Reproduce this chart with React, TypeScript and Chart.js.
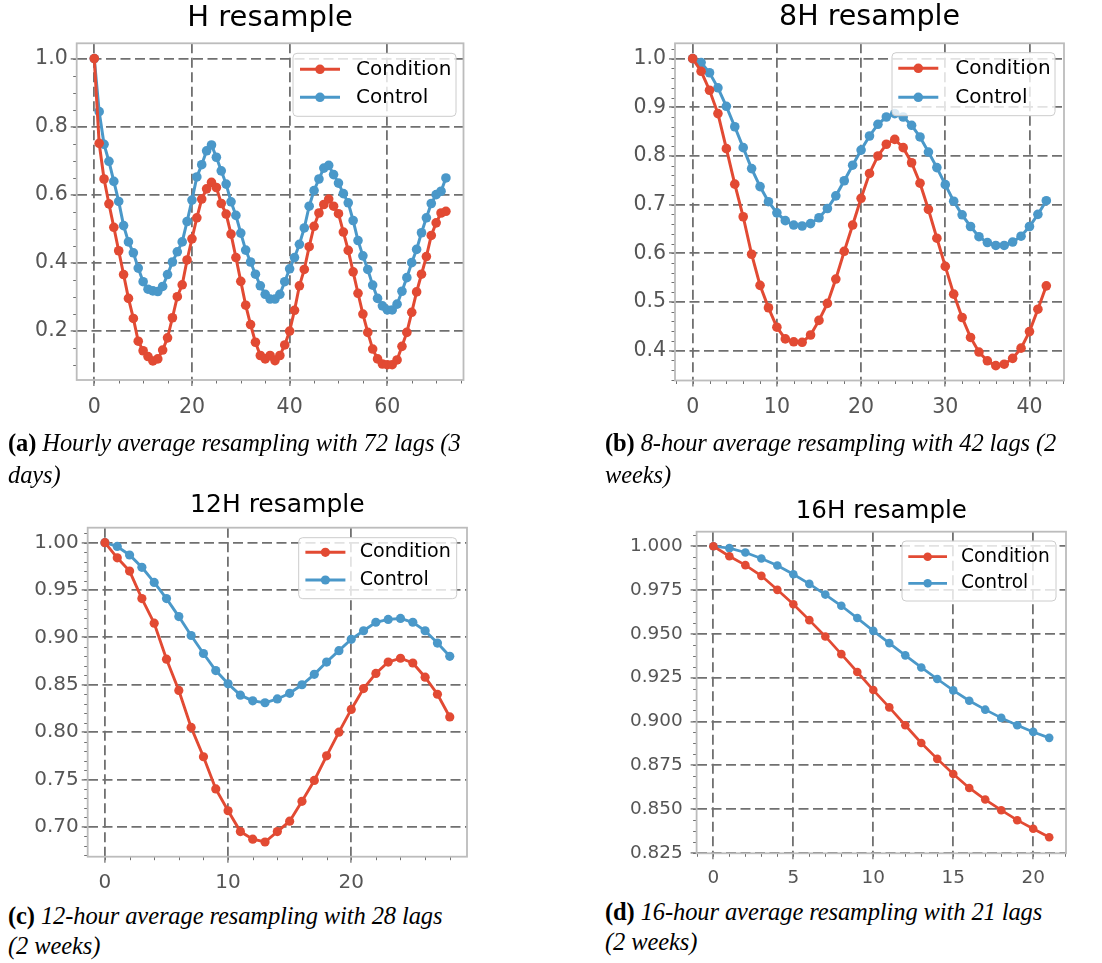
import React, { useEffect, useRef } from "react";
import { Chart, registerables } from "chart.js";

Chart.register(...registerables);

// Autocorrelation by lag, hourly resample (lags 0..72)
const hCondition = [
  1.0, 0.751, 0.646, 0.573, 0.504, 0.435, 0.365, 0.295, 0.236, 0.169,
  0.141, 0.124, 0.111, 0.117, 0.143, 0.179, 0.238, 0.3, 0.335, 0.408,
  0.47, 0.532, 0.587, 0.617, 0.636, 0.621, 0.574, 0.543, 0.484, 0.415,
  0.345, 0.275, 0.218, 0.166, 0.127, 0.117, 0.127, 0.112, 0.127, 0.158,
  0.199, 0.26, 0.332, 0.38, 0.447, 0.507, 0.546, 0.571, 0.587, 0.566,
  0.544, 0.49, 0.436, 0.373, 0.31, 0.249, 0.195, 0.146, 0.117, 0.102,
  0.1, 0.1, 0.114, 0.154, 0.195, 0.254, 0.314, 0.366, 0.418, 0.48,
  0.517, 0.546, 0.551,
];
const hControl = [
  1.0, 0.844, 0.748, 0.698, 0.639, 0.58, 0.509, 0.461, 0.429, 0.384,
  0.344, 0.322, 0.317, 0.315, 0.33, 0.365, 0.402, 0.432, 0.461, 0.521,
  0.584, 0.652, 0.688, 0.729, 0.746, 0.71, 0.67, 0.631, 0.579, 0.539,
  0.487, 0.437, 0.402, 0.366, 0.332, 0.307, 0.293, 0.293, 0.307, 0.344,
  0.382, 0.415, 0.454, 0.502, 0.566, 0.612, 0.646, 0.678, 0.686, 0.659,
  0.634, 0.603, 0.576, 0.524, 0.465, 0.42, 0.38, 0.334, 0.295, 0.273,
  0.261, 0.261, 0.278, 0.316, 0.356, 0.4, 0.439, 0.488, 0.532, 0.574,
  0.6, 0.61, 0.649,
];

// 8-hour resample (lags 0..42)
const h8Condition = [
  1.0, 0.974, 0.935, 0.887, 0.815, 0.742, 0.675, 0.598, 0.534, 0.488,
  0.448, 0.424, 0.418, 0.417, 0.432, 0.462, 0.497, 0.547, 0.604, 0.658,
  0.713, 0.764, 0.8, 0.824, 0.834, 0.817, 0.786, 0.744, 0.69, 0.631,
  0.573, 0.516, 0.468, 0.427, 0.397, 0.379, 0.369, 0.372, 0.384, 0.405,
  0.439, 0.485, 0.533,
];
const h8Control = [
  1.0, 0.992, 0.971, 0.94, 0.902, 0.86, 0.817, 0.774, 0.737, 0.706,
  0.683, 0.667, 0.658, 0.656, 0.661, 0.673, 0.692, 0.718, 0.749, 0.781,
  0.812, 0.841, 0.865, 0.88, 0.887, 0.88, 0.863, 0.839, 0.808, 0.776,
  0.741, 0.707, 0.679, 0.655, 0.634, 0.622, 0.616, 0.616, 0.623, 0.635,
  0.655, 0.68, 0.708,
];

// 12-hour resample (lags 0..28)
const h12Condition = [
  1.0, 0.984, 0.97, 0.941, 0.915, 0.877, 0.844, 0.805, 0.774, 0.74,
  0.717, 0.695, 0.687, 0.684, 0.695, 0.706, 0.727, 0.749, 0.775, 0.8,
  0.824, 0.846, 0.862, 0.874, 0.878, 0.873, 0.858, 0.84, 0.816,
];
const h12Control = [
  1.0, 0.996, 0.987, 0.974, 0.958, 0.941, 0.922, 0.902, 0.883, 0.865,
  0.851, 0.839, 0.833, 0.831, 0.835, 0.841, 0.85, 0.861, 0.874, 0.886,
  0.898, 0.907, 0.916, 0.919, 0.92, 0.916, 0.907, 0.894, 0.88,
];

// 16-hour resample (lags 0..21)
const h16Condition = [
  1.0, 0.9943, 0.9892, 0.9831, 0.9751, 0.9669, 0.9578, 0.9485, 0.9384, 0.9282,
  0.9179, 0.908, 0.8978, 0.8877, 0.8786, 0.87, 0.862, 0.8554, 0.8493, 0.8436,
  0.8387, 0.8339,
];
const h16Control = [
  1.0, 0.9989, 0.9964, 0.993, 0.989, 0.984, 0.9785, 0.9724, 0.966, 0.959,
  0.9517, 0.9447, 0.9377, 0.9308, 0.9242, 0.9177, 0.9118, 0.9067, 0.902, 0.8978,
  0.894, 0.8906,
];

// Major tick values
const hXTicks = [0, 20, 40, 60];
const hYTicks = [0.2, 0.4, 0.6, 0.8, 1.0];
const h8XTicks = [0, 10, 20, 30, 40];
const h8YTicks = [0.4, 0.5, 0.6, 0.7, 0.8, 0.9, 1.0];
const h12XTicks = [0, 10, 20];
const h12YTicks = [0.7, 0.75, 0.8, 0.85, 0.9, 0.95, 1.0];
const h16XTicks = [0, 5, 10, 15, 20];
const h16YTicks = [0.825, 0.85, 0.875, 0.9, 0.925, 0.95, 0.975, 1.0];

const seriesNames = ["Condition", "Control"];
const RED = "#E24A33";
const BLUE = "#4A98C9";
const FRAME = "#bcbcbc";
const GRID = "#707070";
const TICK_TEXT = "#555555";
const SANS = '"DejaVu Sans", sans-serif';

type LegendSpec = {
  insetRight: number; insetTop: number; width: number; height: number;
  line: [number, number]; textX: number; rows: [number, number]; fontSize: number;
};

type PanelSpec = {
  title: string; titleSize: number; titleY: number; plotTop: number;
  left: number; top: number; width: number; height: number;
  yAxisWidth: number; xAxisHeight: number; padRight: number;
  xRange: [number, number]; xTicks: number[]; xMinorStep: number;
  yRange: [number, number]; yTicks: number[]; yMinorStep: number; yDecimals: number;
  tickSize: number; xTickPad: number; yTickPad: number;
  condition: number[]; control: number[];
  pointRadius: number; lineWidth: number;
  legend: LegendSpec;
};

function minorValues(lo: number, hi: number, step: number): number[] {
  const out: number[] = [];
  const k0 = Math.ceil(lo / step - 1e-9);
  const k1 = Math.floor(hi / step + 1e-9);
  for (let k = k0; k <= k1; k++) out.push(+(k * step).toFixed(6));
  return out;
}

const panels: PanelSpec[] = [
  {
    title: "H resample", titleSize: 29, titleY: 18, plotTop: 43.3,
    left: 0, top: 0, width: 480, height: 420,
    yAxisWidth: 76.7, xAxisHeight: 40, padRight: 16.5,
    xRange: [-3.6, 75.6], xTicks: hXTicks, xMinorStep: 5,
    yRange: [0.055, 1.045], yTicks: hYTicks, yMinorStep: 0.05, yDecimals: 1,
    tickSize: 20.5, xTickPad: 9, yTickPad: 3,
    condition: hCondition, control: hControl,
    pointRadius: 4.8, lineWidth: 3,
    legend: { insetRight: 7.5, insetTop: 10, width: 163, height: 63, line: [7, 47], textX: 63, rows: [16, 44], fontSize: 20 },
  },
  {
    title: "8H resample", titleSize: 28.5, titleY: 18, plotTop: 43.3,
    left: 590, top: 0, width: 490, height: 420,
    yAxisWidth: 85, xAxisHeight: 39.5, padRight: 16,
    xRange: [-2.1, 44.1], xTicks: h8XTicks, xMinorStep: 2,
    yRange: [0.3385, 1.0315], yTicks: h8YTicks, yMinorStep: 0.02, yDecimals: 1,
    tickSize: 20.5, xTickPad: 9, yTickPad: 3,
    condition: h8Condition, control: h8Control,
    pointRadius: 4.8, lineWidth: 3,
    legend: { insetRight: 9, insetTop: 9.4, width: 163, height: 63, line: [6.3, 46.3], textX: 63.3, rows: [15.6, 44.6], fontSize: 20 },
  },
  {
    title: "12H resample", titleSize: 25, titleY: 15, plotTop: 37.7,
    left: 0, top: 490, width: 480, height: 400,
    yAxisWidth: 87.7, xAxisHeight: 33.3, padRight: 13,
    xRange: [-1.4, 29.4], xTicks: h12XTicks, xMinorStep: 2,
    yRange: [0.6685, 1.0158], yTicks: h12YTicks, yMinorStep: 0.01, yDecimals: 2,
    tickSize: 20, xTickPad: 8, yTickPad: 3,
    condition: h12Condition, control: h12Control,
    pointRadius: 4.6, lineWidth: 2.9,
    legend: { insetRight: 10.3, insetTop: 10, width: 158, height: 61, line: [6.7, 46.7], textX: 61, rows: [14.6, 42.3], fontSize: 19.1 },
  },
  {
    title: "16H resample", titleSize: 24.5, titleY: 22, plotTop: 41.7,
    left: 590, top: 490, width: 490, height: 400,
    yAxisWidth: 106.6, xAxisHeight: 36.7, padRight: 14,
    xRange: [-1.05, 22.05], xTicks: h16XTicks, xMinorStep: 1,
    yRange: [0.8247, 1.0083], yTicks: h16YTicks, yMinorStep: 0.00625, yDecimals: 3,
    tickSize: 18.4, xTickPad: 7.5, yTickPad: 8,
    condition: h16Condition, control: h16Control,
    pointRadius: 4.3, lineWidth: 2.7,
    legend: { insetRight: 10, insetTop: 9.3, width: 154, height: 60, line: [6.3, 45], textX: 59, rows: [15.7, 42.3], fontSize: 18.6 },
  },
];

function ResamplePanel({ spec }: { spec: PanelSpec }) {
  const canvasRef = useRef<HTMLCanvasElement | null>(null);

  useEffect(() => {
    const canvas = canvasRef.current;
    if (!canvas) return;

    // Panel title centred over the plot area
    const titlePlugin = {
      id: "axesTitle",
      afterDraw(chart: any) {
        const { ctx, chartArea } = chart;
        ctx.save();
        ctx.fillStyle = "#000000";
        ctx.font = `${spec.titleSize}px ${SANS}`;
        ctx.textAlign = "center";
        ctx.textBaseline = "middle";
        ctx.fillText(spec.title, (chartArea.left + chartArea.right) / 2, spec.titleY);
        ctx.restore();
      },
    };

    // Four-sided light frame plus short minor tick marks
    const framePlugin = {
      id: "axesFrame",
      beforeDatasetsDraw(chart: any) {
        const { ctx, chartArea } = chart;
        const { left, top, right, bottom } = chartArea;
        const xs = chart.scales.x;
        const ys = chart.scales.y;
        ctx.save();
        ctx.strokeStyle = GRID;
        ctx.lineWidth = 1;
        ctx.beginPath();
        for (const v of minorValues(spec.xRange[0], spec.xRange[1], spec.xMinorStep)) {
          const px = Math.round(xs.getPixelForValue(v)) + 0.5;
          ctx.moveTo(px, bottom);
          ctx.lineTo(px, bottom + 3.5);
        }
        for (const v of minorValues(spec.yRange[0], spec.yRange[1], spec.yMinorStep)) {
          const py = Math.round(ys.getPixelForValue(v)) + 0.5;
          ctx.moveTo(left, py);
          ctx.lineTo(left - 3.5, py);
        }
        ctx.stroke();
        ctx.strokeStyle = FRAME;
        ctx.lineWidth = 1.8;
        ctx.strokeRect(left, top, right - left, bottom - top);
        ctx.restore();
      },
    };

    // Legend box in the upper-right corner of the plot area
    const legendPlugin = {
      id: "insetLegend",
      afterDatasetsDraw(chart: any) {
        const { ctx, chartArea } = chart;
        const lg = spec.legend;
        const x1 = chartArea.right - lg.insetRight - lg.width;
        const y1 = chartArea.top + lg.insetTop;
        ctx.save();
        ctx.beginPath();
        ctx.roundRect(x1, y1, lg.width, lg.height, 4);
        ctx.fillStyle = "rgba(255,255,255,0.8)";
        ctx.fill();
        ctx.strokeStyle = "#cccccc";
        ctx.lineWidth = 1;
        ctx.stroke();
        chart.data.datasets.forEach((ds: any, i: number) => {
          const y = y1 + lg.rows[i];
          ctx.strokeStyle = ds.borderColor;
          ctx.lineWidth = ds.borderWidth;
          ctx.beginPath();
          ctx.moveTo(x1 + lg.line[0], y);
          ctx.lineTo(x1 + lg.line[1], y);
          ctx.stroke();
          ctx.fillStyle = ds.borderColor;
          ctx.beginPath();
          ctx.arc(x1 + (lg.line[0] + lg.line[1]) / 2, y, ds.pointRadius, 0, Math.PI * 2);
          ctx.fill();
          ctx.fillStyle = "#000000";
          ctx.font = `${lg.fontSize}px ${SANS}`;
          ctx.textAlign = "left";
          ctx.textBaseline = "middle";
          ctx.fillText(ds.label, x1 + lg.textX, y);
        });
        ctx.restore();
      },
    };

    const makeSeries = (label: string, values: number[], color: string) => ({
      label,
      data: values.map((v, i) => ({ x: i, y: v })),
      borderColor: color,
      backgroundColor: color,
      borderWidth: spec.lineWidth,
      pointRadius: spec.pointRadius,
      pointHoverRadius: spec.pointRadius,
      pointBackgroundColor: color,
      pointBorderWidth: 0,
      tension: 0,
      fill: false,
    });

    const gridCommon = {
      color: GRID,
      lineWidth: 1.8,
      drawTicks: true,
      tickLength: 6,
      tickColor: GRID,
      tickWidth: 1.3,
    };

    const chart = new Chart(canvas, {
      type: "line",
      data: {
        datasets: [
          makeSeries(seriesNames[0], spec.condition, RED),
          makeSeries(seriesNames[1], spec.control, BLUE),
        ],
      },
      options: {
        animation: false,
        responsive: false,
        maintainAspectRatio: false,
        devicePixelRatio: 1,
        layout: { padding: { left: 0, top: spec.plotTop, right: spec.padRight, bottom: 0 } },
        plugins: {
          legend: { display: false },
          tooltip: { enabled: false },
          title: { display: false },
        },
        scales: {
          x: {
            type: "linear",
            min: spec.xRange[0],
            max: spec.xRange[1],
            afterBuildTicks: (scale: any) => {
              scale.ticks = spec.xTicks.map((v) => ({ value: v }));
            },
            afterFit: (scale: any) => {
              scale.height = spec.xAxisHeight;
            },
            ticks: {
              autoSkip: false,
              maxRotation: 0,
              color: TICK_TEXT,
              padding: spec.xTickPad,
              font: { family: SANS, size: spec.tickSize },
              callback: (v: any) => String(v),
            },
            grid: gridCommon,
            border: { display: false, dash: [10, 4.5] },
          },
          y: {
            type: "linear",
            min: spec.yRange[0],
            max: spec.yRange[1],
            afterBuildTicks: (scale: any) => {
              scale.ticks = spec.yTicks.map((v) => ({ value: v }));
            },
            afterFit: (scale: any) => {
              scale.width = spec.yAxisWidth;
            },
            ticks: {
              autoSkip: false,
              color: TICK_TEXT,
              padding: spec.yTickPad,
              font: { family: SANS, size: spec.tickSize },
              callback: (v: any) => Number(v).toFixed(spec.yDecimals),
            },
            grid: gridCommon,
            border: { display: false, dash: [10, 4.5] },
          },
        },
      } as any,
      plugins: [framePlugin, legendPlugin, titlePlugin],
    });

    return () => chart.destroy();
  }, [spec]);

  return (
    <canvas
      ref={canvasRef}
      width={spec.width}
      height={spec.height}
      style={{
        position: "absolute",
        left: spec.left,
        top: spec.top,
        width: spec.width,
        height: spec.height,
      }}
    />
  );
}

type CaptionSpec = { tag: string; lines: string[]; left: number; top: number; lineHeight: number };

const captions: CaptionSpec[] = [
  { tag: "(a)", lines: ["Hourly average resampling with 72 lags (3", "days)"], left: 8, top: 427, lineHeight: 32 },
  { tag: "(b)", lines: ["8-hour average resampling with 42 lags (2", "weeks)"], left: 605, top: 427, lineHeight: 32 },
  { tag: "(c)", lines: ["12-hour average resampling with 28 lags", "(2 weeks)"], left: 8, top: 901, lineHeight: 30 },
  { tag: "(d)", lines: ["16-hour average resampling with 21 lags", "(2 weeks)"], left: 605, top: 897, lineHeight: 30 },
];

function Caption({ c }: { c: CaptionSpec }) {
  return (
    <div
      style={{
        position: "absolute",
        left: c.left,
        top: c.top,
        fontFamily: '"Liberation Serif", serif',
        fontSize: 24.5,
        letterSpacing: "-0.1px",
        lineHeight: `${c.lineHeight}px`,
        whiteSpace: "nowrap",
        color: "#000",
      }}
    >
      <b>{c.tag}</b> <i>{c.lines[0]}</i>
      <br />
      <i>{c.lines[1]}</i>
    </div>
  );
}

export default function App() {
  return (
    <div
      style={{
        position: "absolute",
        left: 0,
        top: 0,
        width: 1102,
        height: 963,
        background: "#ffffff",
        overflow: "hidden",
      }}
    >
      {panels.map((p) => (
        <ResamplePanel key={p.title} spec={p} />
      ))}
      {captions.map((c) => (
        <Caption key={c.tag} c={c} />
      ))}
    </div>
  );
}
